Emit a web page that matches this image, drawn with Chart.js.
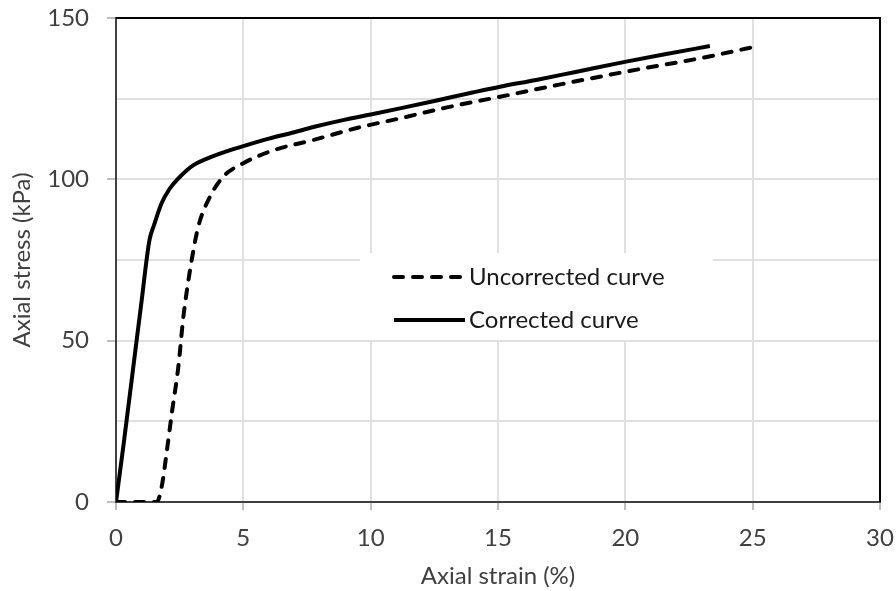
<!DOCTYPE html>
<html>
<head>
<meta charset="utf-8">
<title>Axial stress vs axial strain</title>
<script src="https://cdn.jsdelivr.net/npm/chart.js@4.4.1/dist/chart.umd.min.js"></script>
<style>
    html, body { margin: 0; padding: 0; background: #fff; }
    #wrap { width: 896px; height: 591px; }
</style>
</head>
<body>
<div id="wrap"><canvas id="stressChart" width="896" height="591"></canvas></div>
<script>
// Uncorrected curve (dashed)
const uncorrStrain = [0, 0.8, 1.6, 1.8, 2.0, 2.2, 2.45, 2.64, 2.91, 3.23, 3.69, 4.21, 5.0, 6.18, 7.75, 9.5, 11.15, 13.0, 15.08, 17.5, 19.98, 21.5, 22.93, 25.09];
const uncorrStress = [0, 0, 0, 5, 16, 28, 42, 57, 72, 85.3, 94.6, 100.8, 105, 109, 112.2, 116, 118.9, 122.3, 125.6, 129.5, 133.3, 135.5, 137.5, 141.1];

// Corrected curve (solid)
const corrStrain = [0, 0.3, 0.65, 1.0, 1.31, 1.5, 1.79, 2.1, 2.45, 2.75, 3.04, 3.5, 4.08, 5.0, 6.0, 7.0, 7.75, 9.0, 10.0, 11.15, 12.5, 14.0, 15.08, 16.5, 18.0, 19.98, 21.5, 23.32];
const corrStress = [0, 18, 40, 62, 81, 86, 92.6, 97, 100.3, 102.6, 104.4, 106.2, 108, 110.3, 112.6, 114.6, 116.2, 118.5, 120.1, 122, 124.3, 126.9, 128.7, 130.8, 133.2, 136.4, 138.7, 141.3];

const seriesLabels = ['Uncorrected curve', 'Corrected curve'];
const xTitle = 'Axial strain (%)';
const yTitle = 'Axial stress (kPa)';

const FONT = 'Lato';
const FONT_SIZE = 24;
const textColor = '#404040';

function toPoints(xs, ys) {
    return xs.map((x, i) => ({ x: x, y: ys[i] }));
}

// Top and right frame lines of the plot area
const frameLines = {
    id: 'frameLines',
    beforeDatasetsDraw(chart) {
        const { ctx, chartArea: a } = chart;
        ctx.save();
        ctx.strokeStyle = '#000';
        ctx.lineWidth = 2;
        ctx.beginPath();
        ctx.moveTo(a.left, a.top);
        ctx.lineTo(a.right, a.top);
        ctx.lineTo(a.right, a.bottom);
        ctx.stroke();
        ctx.restore();
    }
};

// Legend box inside the plot, white background over the grid
const boxLegend = {
    id: 'boxLegend',
    afterDatasetsDraw(chart) {
        const ctx = chart.ctx;
        ctx.save();
        ctx.fillStyle = '#fff';
        ctx.fillRect(360, 253, 353, 87);
        const rows = [277, 320];
        chart.data.datasets.forEach((ds, i) => {
            const y = rows[i];
            ctx.strokeStyle = '#000';
            ctx.lineWidth = 4;
            ctx.lineCap = ds.borderCapStyle || 'butt';
            ctx.setLineDash(ds.borderDash || []);
            ctx.beginPath();
            ctx.moveTo(394, y);
            ctx.lineTo(465, y);
            ctx.stroke();
            ctx.setLineDash([]);
            ctx.fillStyle = '#1a1a1a';
            ctx.font = FONT_SIZE + 'px ' + FONT;
            ctx.textBaseline = 'middle';
            ctx.textAlign = 'left';
            ctx.fillText(ds.label, 469, y);
        });
        ctx.restore();
    }
};

const ctx = document.getElementById('stressChart').getContext('2d');
const stressChart = new Chart(ctx, {
    type: 'line',
    data: {
        datasets: [{
            label: seriesLabels[0],
            data: toPoints(uncorrStrain, uncorrStress),
            borderColor: '#000',
            borderWidth: 4,
            borderDash: [9, 10],
            borderCapStyle: 'round',
            pointRadius: 0,
            cubicInterpolationMode: 'monotone'
        }, {
            label: seriesLabels[1],
            data: toPoints(corrStrain, corrStress),
            borderColor: '#000',
            borderWidth: 4,
            borderJoinStyle: 'round',
            pointRadius: 0,
            cubicInterpolationMode: 'monotone'
        }]
    },
    options: {
        responsive: false,
        animation: false,
        layout: { padding: { top: 18, right: 16, left: 0, bottom: 0 } },
        plugins: {
            legend: { display: false },
            tooltip: { enabled: false }
        },
        scales: {
            x: {
                type: 'linear',
                min: 0,
                max: 30,
                afterFit(scale) {
                    scale.height = 89;
                    scale.paddingLeft = 0;
                    scale.paddingRight = 0;
                },
                ticks: {
                    stepSize: 5,
                    color: textColor,
                    padding: 14,
                    font: { family: FONT, size: FONT_SIZE }
                },
                grid: {
                    color: '#e0e0e0',
                    lineWidth: 2,
                    tickLength: 8,
                    tickColor: '#7f7f7f',
                    tickWidth: 1
                },
                border: { color: '#404040', width: 2 },
                title: {
                    display: true,
                    text: xTitle,
                    color: textColor,
                    font: { family: FONT, size: FONT_SIZE },
                    padding: { top: 0, bottom: 0 }
                }
            },
            y: {
                min: 0,
                max: 150,
                afterFit(scale) {
                    scale.width = 116;
                    scale.paddingTop = 0;
                    scale.paddingBottom = 0;
                },
                ticks: {
                    stepSize: 25,
                    color: textColor,
                    padding: 18,
                    font: { family: FONT, size: FONT_SIZE },
                    callback: v => (v % 50 === 0 ? v : '')
                },
                grid: {
                    color: '#e0e0e0',
                    lineWidth: 2,
                    tickLength: 9,
                    tickColor: c => (c.tick && c.tick.value % 50 === 0 ? '#7f7f7f' : 'rgba(0,0,0,0)'),
                    tickWidth: 1
                },
                border: { color: '#404040', width: 2 },
                title: {
                    display: true,
                    text: yTitle,
                    color: textColor,
                    font: { family: FONT, size: FONT_SIZE },
                    padding: { top: 8, bottom: 0 }
                }
            }
        }
    },
    plugins: [frameLines, boxLegend]
});
</script>
</body>
</html>
